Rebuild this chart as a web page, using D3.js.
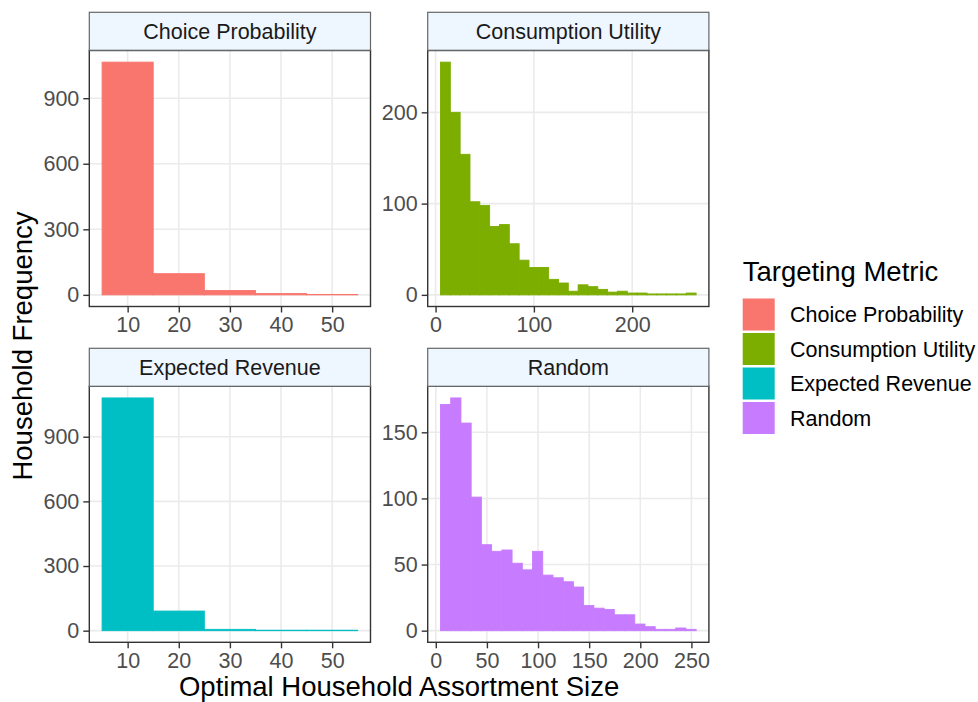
<!DOCTYPE html>
<html>
<head>
<meta charset="utf-8">
<script src="https://cdn.jsdelivr.net/npm/d3@7"></script>
<style>
  html, body { margin: 0; padding: 0; background: #fff; }
  svg { display: block; font-family: "Liberation Sans", Arial, sans-serif; }
</style>
</head>
<body>
<svg id="chart" width="978" height="702"></svg>
<script>
// ---- Data ----
const metrics = ["Choice Probability", "Consumption Utility", "Expected Revenue", "Random"];
const colors = ["#F8766D", "#7CAE00", "#00BFC4", "#C77CFF"];

// bin lower edges and counts
const cpBinStarts = [5, 15, 25, 35, 45];
const cpCounts = [1065, 97, 20, 6, 2];

const erBinStarts = [5, 15, 25, 35, 45];
const erCounts = [1080, 91, 6, 2, 2];

const cuBinStarts = [5, 15, 25, 35, 45, 55, 65, 75, 85, 95, 105, 115, 125, 135, 145, 155, 165, 175, 185, 195, 205, 215, 225, 235, 245, 255];
const cuCounts = [255, 200, 154, 102, 98, 75, 77, 56, 38, 30, 30, 17, 13, 4, 11, 9, 6, 3, 4, 2, 2, 1, 1, 1, 1, 2];

const rnBinStarts = [4.6, 14.6, 24.6, 34.6, 44.6, 54.6, 64.6, 74.6, 84.6, 94.6, 104.6, 114.6, 124.6, 134.6, 144.6, 154.6, 164.6, 174.6, 184.6, 194.6, 204.6, 214.6, 224.6, 234.6, 244.6];
const rnCounts = [171, 176, 157, 101, 65, 60, 61, 51, 46, 60, 42, 40, 37, 33, 19, 17, 16, 12, 12, 5, 3, 1, 1, 2, 1];

const binWidth = 10;

const cpXTicks = [10, 20, 30, 40, 50];
const cpYTicks = [0, 300, 600, 900];
const cuXTicks = [0, 100, 200];
const cuYTicks = [0, 100, 200];
const erXTicks = [10, 20, 30, 40, 50];
const erYTicks = [0, 300, 600, 900];
const rnXTicks = [0, 50, 100, 150, 200, 250];
const rnYTicks = [0, 50, 100, 150];

const xTitle = "Optimal Household Assortment Size";
const yTitle = "Household Frequency";
const legendTitle = "Targeting Metric";

// ---- Layout ----
const svg = d3.select("#chart");
const colX = [89.3, 427.7];
const panelW = 281.2;
const stripTop = [12.3, 348.3];
const stripH = 38;
const panelTop = [50.5, 386.3];
const panelH = 256;

const panels = [
  { name: metrics[0], color: colors[0], starts: cpBinStarts, counts: cpCounts, xt: cpXTicks, yt: cpYTicks, col: 0, row: 0 },
  { name: metrics[1], color: colors[1], starts: cuBinStarts, counts: cuCounts, xt: cuXTicks, yt: cuYTicks, col: 1, row: 0 },
  { name: metrics[2], color: colors[2], starts: erBinStarts, counts: erCounts, xt: erXTicks, yt: erYTicks, col: 0, row: 1 },
  { name: metrics[3], color: colors[3], starts: rnBinStarts, counts: rnCounts, xt: rnXTicks, yt: rnYTicks, col: 1, row: 1 }
];

function expand(lo, hi) {
  const r = hi - lo;
  return [lo - 0.05 * r, hi + 0.05 * r];
}

panels.forEach(p => {
  const left = colX[p.col];
  const top = panelTop[p.row];
  const bins = p.starts.map((s, i) => ({ x0: s, x1: s + binWidth, n: p.counts[i] }));
  const xmin = d3.min(bins, d => d.x0), xmax = d3.max(bins, d => d.x1);
  const ymax = d3.max(bins, d => d.n);
  const x = d3.scaleLinear().domain(expand(xmin, xmax)).range([left, left + panelW]);
  const y = d3.scaleLinear().domain(expand(0, ymax)).range([top + panelH, top]);

  const g = svg.append("g");
  // background
  g.append("rect").attr("x", left).attr("y", top).attr("width", panelW).attr("height", panelH).attr("fill", "#fff");
  // grid
  g.selectAll(".gx").data(p.xt).join("line")
    .attr("x1", d => x(d)).attr("x2", d => x(d))
    .attr("y1", top).attr("y2", top + panelH)
    .attr("stroke", "#EBEBEB").attr("stroke-width", 1.6);
  g.selectAll(".gy").data(p.yt).join("line")
    .attr("x1", left).attr("x2", left + panelW)
    .attr("y1", d => y(d)).attr("y2", d => y(d))
    .attr("stroke", "#EBEBEB").attr("stroke-width", 1.6);
  // bars
  g.selectAll(".bar").data(bins).join("rect")
    .attr("x", d => x(d.x0)).attr("width", d => x(d.x1) - x(d.x0))
    .attr("y", d => y(d.n)).attr("height", d => y(0) - y(d.n))
    .attr("fill", p.color)
    .attr("stroke", p.color).attr("stroke-width", 0.9);
  // border
  g.append("rect").attr("x", left).attr("y", top).attr("width", panelW).attr("height", panelH)
    .attr("fill", "none").attr("stroke", "#333333").attr("stroke-width", 1.4);
  // strip
  g.append("rect").attr("x", left).attr("y", stripTop[p.row]).attr("width", panelW).attr("height", stripH)
    .attr("fill", "#EEF6FF").attr("stroke", "#666666").attr("stroke-width", 1.2);
  g.append("text").attr("x", left + panelW / 2).attr("y", stripTop[p.row] + stripH / 2)
    .attr("dy", "0.36em").attr("text-anchor", "middle")
    .attr("font-size", 21.5).attr("fill", "#1A1A1A").text(p.name);

  // axes
  const xa = g.append("g").attr("transform", `translate(0,${top + panelH})`)
    .call(d3.axisBottom(x).tickValues(p.xt).tickSize(6).tickPadding(4).tickFormat(d3.format("d")));
  const ya = g.append("g").attr("transform", `translate(${left},0)`)
    .call(d3.axisLeft(y).tickValues(p.yt).tickSize(6).tickPadding(4).tickFormat(d3.format("d")));
  [xa, ya].forEach(a => {
    a.select(".domain").remove();
    a.selectAll(".tick line").attr("stroke", "#333333").attr("stroke-width", 1.4);
    a.selectAll(".tick text").attr("fill", "#4D4D4D").attr("font-size", 21.5)
      .attr("font-family", "Liberation Sans, Arial, sans-serif");
  });
  xa.selectAll(".tick text").attr("dy", "0.72em");
});

// axis titles
svg.append("text").attr("x", (colX[0] + colX[1] + panelW) / 2).attr("y", 696)
  .attr("text-anchor", "middle").attr("font-size", 27.5).attr("fill", "#000").text(xTitle);
svg.append("text").attr("transform", `translate(32,346) rotate(-90)`)
  .attr("text-anchor", "middle").attr("font-size", 27.5).attr("fill", "#000").text(yTitle);

// legend
const lg = svg.append("g");
lg.append("text").attr("x", 742.7).attr("y", 280.7).attr("font-size", 27.5).attr("fill", "#000").text(legendTitle);
const keyY = d3.scaleBand().domain(metrics).range([298.5, 298.5 + 34.5 * metrics.length]);
metrics.forEach((m, i) => {
  lg.append("rect").attr("x", 742.7).attr("y", keyY(m)).attr("width", 32).attr("height", 32).attr("fill", colors[i]);
  lg.append("text").attr("x", 790).attr("y", keyY(m) + 16).attr("dy", "0.36em")
    .attr("font-size", 21.5).attr("fill", "#000").text(m);
});
</script>
</body>
</html>
